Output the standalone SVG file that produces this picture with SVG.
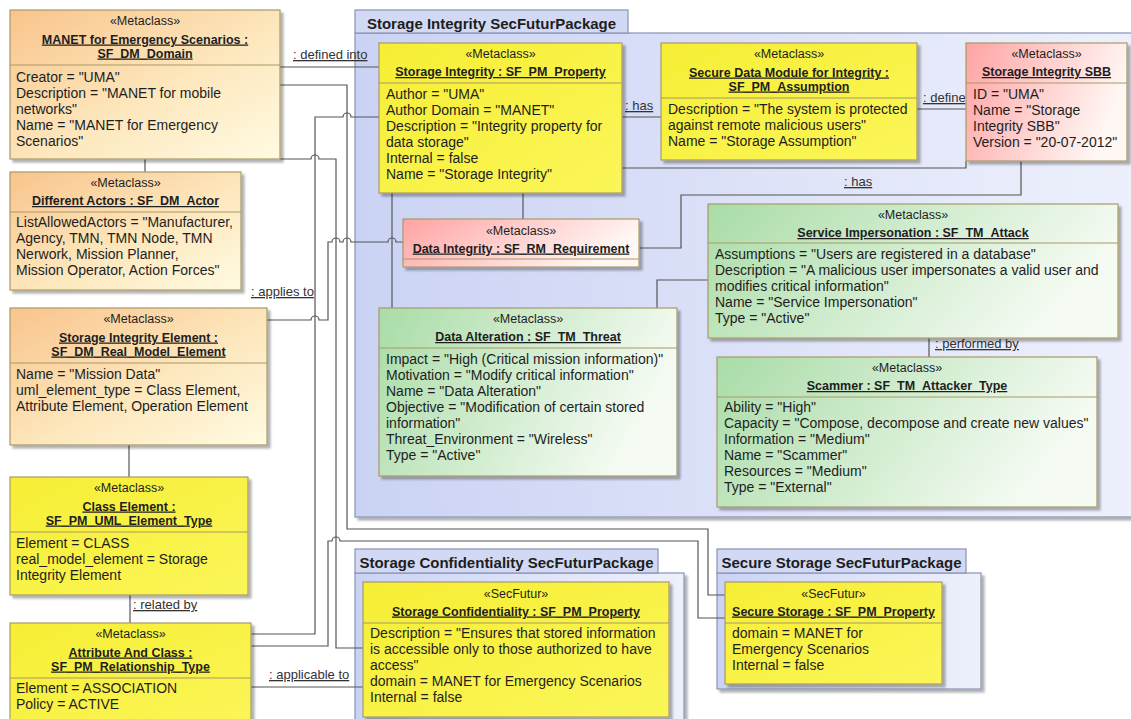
<svg xmlns="http://www.w3.org/2000/svg" width="1131" height="719" viewBox="0 0 1131 719">
<defs>
<linearGradient id="gO" x1="0" y1="0" x2="1" y2="1"><stop offset="0" stop-color="#f9c48c"/><stop offset="0.55" stop-color="#fde7bd"/><stop offset="1" stop-color="#fffbe2"/></linearGradient>
<linearGradient id="gP" x1="0" y1="0" x2="1" y2="0.3"><stop offset="0" stop-color="#ffa3a3"/><stop offset="1" stop-color="#fff7f4"/></linearGradient>
<linearGradient id="gG" x1="0" y1="0" x2="1" y2="0.3"><stop offset="0" stop-color="#a9dca7"/><stop offset="1" stop-color="#f5fbf3"/></linearGradient>
<linearGradient id="gY" x1="0" y1="0" x2="1" y2="1"><stop offset="0" stop-color="#f6ee34"/><stop offset="1" stop-color="#fbf65a"/></linearGradient>
<linearGradient id="gK" x1="0" y1="0" x2="1" y2="0"><stop offset="0" stop-color="#cbd3f4"/><stop offset="1" stop-color="#eef1fc"/></linearGradient>
<filter id="sh" x="-5%" y="-5%" width="115%" height="120%"><feDropShadow dx="3" dy="3" stdDeviation="1.2" flood-color="#000" flood-opacity="0.3"/></filter>
<style>
text{font-family:"Liberation Sans",Arial,sans-serif;fill:#1e1e1e}
.st{font-size:12.5px;text-anchor:middle}
.tt{font-size:12.5px;font-weight:bold;text-anchor:middle;text-decoration:underline}
.at{font-size:14px}
.lb{font-size:13px;fill:#333;text-decoration:underline}
.pk{font-size:15px;font-weight:bold;text-anchor:middle}
.nb{stroke:#a89a66;stroke-width:1.2;filter:url(#sh)}
.sp{stroke:#a89a66;stroke-width:1.2}
.o{fill:url(#gO)}
.y{fill:url(#gY)}
.p{fill:url(#gP)}
.g{fill:url(#gG)}
.pkb{fill:url(#gK);stroke:#8a93b5;stroke-width:1.2;filter:url(#sh)}
.pkt{fill:#d2d9f4;stroke:#8a93b5;stroke-width:1.2}
.cn path{fill:none;stroke:#555;stroke-width:1.2}
</style>
</defs>
<rect width="1131" height="719" fill="#fff"/>

<g id="pkg-storage-integrity">
<rect class="pkb" x="355" y="33" width="790" height="484"/>
<rect class="pkt" x="355" y="10" width="273" height="23"/>
<text class="pk" x="491.5" y="28.5">Storage Integrity SecFuturPackage</text>
</g>
<g id="pkg-storage-confidentiality">
<rect class="pkb" x="355" y="573" width="329" height="160"/>
<rect class="pkt" x="355" y="549" width="303" height="24"/>
<text class="pk" x="506.5" y="568">Storage Confidentiality SecFuturPackage</text>
</g>
<g id="pkg-secure-storage">
<rect class="pkb" x="717" y="573" width="264" height="116"/>
<rect class="pkt" x="717" y="549" width="249" height="24"/>
<text class="pk" x="841.5" y="568">Secure Storage SecFuturPackage</text>
</g>

<g id="connectors" class="cn">
<path d="M280 67H379"/>
<path d="M280 85H347V529H708V595H725"/>
<path d="M379 117H351A4 4 0 0 0 343 117H315V634H251"/>
<path d="M280 159H311A4 4 0 0 1 319 159H336V648H363"/>
<path d="M267 320H311A4 4 0 0 1 319 320H328V242H332A4 4 0 0 1 340 242H343A4 4 0 0 1 351 242H388A4 4 0 0 1 396 242H403"/>
<path d="M251 646H328V541H332A4 4 0 0 1 340 541H698V618H725"/>
<path d="M251 687H363"/>
<path d="M130 595V623"/>
<path d="M145 159V172"/>
<path d="M129 445V477"/>
<path d="M622 117H661"/>
<path d="M917 109H966"/>
<path d="M622 168H966V161"/>
<path d="M1021 161V195H681V248H639"/>
<path d="M657 308V280H708"/>
<path d="M392 193V308"/>
<path d="M523 193V219"/>
<path d="M929 338V357"/>
</g>
<g id="connector-labels">
<text class="lb" x="293" y="59">: defined into</text>
<text class="lb" x="625" y="110">: has</text>
<text class="lb" x="923" y="102">: define</text>
<text class="lb" x="844" y="186">: has</text>
<text class="lb" x="251" y="296">: applies to</text>
<text class="lb" x="935" y="348">: performed by</text>
<text class="lb" x="133" y="609">: related by</text>
<text class="lb" x="269" y="679">: applicable to</text>
</g>

<g id="n-manet">
<rect class="nb o" x="10" y="10" width="270" height="149"/>
<line class="sp" x1="10" y1="65" x2="280" y2="65"/>
<text class="st" x="145" y="25">«Metaclass»</text>
<text class="tt" x="145" y="43.5">MANET for Emergency Scenarios :</text>
<text class="tt" x="145" y="57.5">SF_DM_Domain</text>
<text class="at" x="16" y="82">Creator = "UMA"</text>
<text class="at" x="16" y="98">Description = "MANET for mobile</text>
<text class="at" x="16" y="114">networks"</text>
<text class="at" x="16" y="130">Name = "MANET for Emergency</text>
<text class="at" x="16" y="146">Scenarios"</text>
</g>

<g id="n-actors">
<rect class="nb o" x="10" y="172" width="231" height="118"/>
<line class="sp" x1="10" y1="212" x2="241" y2="212"/>
<text class="st" x="125.5" y="187">«Metaclass»</text>
<text class="tt" x="125.5" y="205">Different Actors : SF_DM_Actor</text>
<text class="at" x="16" y="227">ListAllowedActors = "Manufacturer,</text>
<text class="at" x="16" y="243">Agency, TMN, TMN Node, TMN</text>
<text class="at" x="16" y="259">Nerwork, Mission Planner,</text>
<text class="at" x="16" y="275">Mission Operator, Action Forces"</text>
</g>

<g id="n-si-element">
<rect class="nb o" x="10" y="308" width="257" height="137"/>
<line class="sp" x1="10" y1="363" x2="267" y2="363"/>
<text class="st" x="138.5" y="323">«Metaclass»</text>
<text class="tt" x="138.5" y="341.5">Storage Integrity Element :</text>
<text class="tt" x="138.5" y="355.5">SF_DM_Real_Model_Element</text>
<text class="at" x="16" y="379">Name = "Mission Data"</text>
<text class="at" x="16" y="395">uml_element_type = Class Element,</text>
<text class="at" x="16" y="411">Attribute Element, Operation Element</text>
</g>

<g id="n-class-element">
<rect class="nb y" x="10" y="477" width="238" height="118"/>
<line class="sp" x1="10" y1="532" x2="248" y2="532"/>
<text class="st" x="129" y="492">«Metaclass»</text>
<text class="tt" x="129" y="510.5">Class Element :</text>
<text class="tt" x="129" y="524.5">SF_PM_UML_Element_Type</text>
<text class="at" x="16" y="548">Element = CLASS</text>
<text class="at" x="16" y="564">real_model_element = Storage</text>
<text class="at" x="16" y="580">Integrity Element</text>
</g>

<g id="n-attr-class">
<rect class="nb y" x="10" y="623" width="241" height="110"/>
<line class="sp" x1="10" y1="678" x2="251" y2="678"/>
<text class="st" x="130.5" y="638">«Metaclass»</text>
<text class="tt" x="130.5" y="656.5">Attribute And Class :</text>
<text class="tt" x="130.5" y="670.5">SF_PM_Relationship_Type</text>
<text class="at" x="16" y="693">Element = ASSOCIATION</text>
<text class="at" x="16" y="709">Policy = ACTIVE</text>
</g>

<g id="n-si-property">
<rect class="nb y" x="379" y="43" width="243" height="150"/>
<line class="sp" x1="379" y1="83" x2="622" y2="83"/>
<text class="st" x="500.5" y="58">«Metaclass»</text>
<text class="tt" x="500.5" y="76">Storage Integrity : SF_PM_Property</text>
<text class="at" x="386" y="99">Author = "UMA"</text>
<text class="at" x="386" y="115">Author Domain = "MANET"</text>
<text class="at" x="386" y="131">Description = "Integrity property for</text>
<text class="at" x="386" y="147">data storage"</text>
<text class="at" x="386" y="163">Internal = false</text>
<text class="at" x="386" y="179">Name = "Storage Integrity"</text>
</g>

<g id="n-secure-data">
<rect class="nb y" x="661" y="43" width="256" height="117"/>
<line class="sp" x1="661" y1="98" x2="917" y2="98"/>
<text class="st" x="789" y="58">«Metaclass»</text>
<text class="tt" x="789" y="76.5">Secure Data Module for Integrity :</text>
<text class="tt" x="789" y="90.5">SF_PM_Assumption</text>
<text class="at" x="668" y="114">Description = "The system is protected</text>
<text class="at" x="668" y="130">against remote malicious users"</text>
<text class="at" x="668" y="146">Name = "Storage Assumption"</text>
</g>

<g id="n-sbb">
<rect class="nb p" x="966" y="43" width="161" height="118"/>
<line class="sp" x1="966" y1="83" x2="1127" y2="83"/>
<text class="st" x="1046.5" y="58">«Metaclass»</text>
<text class="tt" x="1046.5" y="76">Storage Integrity SBB</text>
<text class="at" x="973" y="99">ID = "UMA"</text>
<text class="at" x="973" y="115">Name = "Storage</text>
<text class="at" x="973" y="131">Integrity SBB"</text>
<text class="at" x="973" y="147">Version = "20-07-2012"</text>
</g>

<g id="n-data-integrity">
<rect class="nb p" x="403" y="219" width="236" height="48"/>
<line class="sp" x1="403" y1="259" x2="639" y2="259"/>
<text class="st" x="521" y="234.5">«Metaclass»</text>
<text class="tt" x="521" y="252.5">Data Integrity : SF_RM_Requirement</text>
</g>

<g id="n-data-alteration">
<rect class="nb g" x="379" y="308" width="298" height="168"/>
<line class="sp" x1="379" y1="348" x2="677" y2="348"/>
<text class="st" x="528" y="323">«Metaclass»</text>
<text class="tt" x="528" y="341">Data Alteration : SF_TM_Threat</text>
<text class="at" x="386" y="364">Impact = "High (Critical mission information)"</text>
<text class="at" x="386" y="380">Motivation = "Modify critical information"</text>
<text class="at" x="386" y="396">Name = "Data Alteration"</text>
<text class="at" x="386" y="412">Objective = "Modification of certain stored</text>
<text class="at" x="386" y="428">information"</text>
<text class="at" x="386" y="444">Threat_Environment = "Wireless"</text>
<text class="at" x="386" y="460">Type = "Active"</text>
</g>

<g id="n-service-impersonation">
<rect class="nb g" x="708" y="204" width="410" height="134"/>
<line class="sp" x1="708" y1="243" x2="1118" y2="243"/>
<text class="st" x="913" y="219">«Metaclass»</text>
<text class="tt" x="913" y="237">Service Impersonation : SF_TM_Attack</text>
<text class="at" x="715" y="259">Assumptions = "Users are registered in a database"</text>
<text class="at" x="715" y="275">Description = "A malicious user impersonates a valid user and</text>
<text class="at" x="715" y="291">modifies critical information"</text>
<text class="at" x="715" y="307">Name = "Service Impersonation"</text>
<text class="at" x="715" y="323">Type = "Active"</text>
</g>

<g id="n-scammer">
<rect class="nb g" x="717" y="357" width="380" height="150"/>
<line class="sp" x1="717" y1="397" x2="1097" y2="397"/>
<text class="st" x="907" y="372">«Metaclass»</text>
<text class="tt" x="907" y="390">Scammer : SF_TM_Attacker_Type</text>
<text class="at" x="724" y="412">Ability = "High"</text>
<text class="at" x="724" y="428">Capacity = "Compose, decompose and create new values"</text>
<text class="at" x="724" y="444">Information = "Medium"</text>
<text class="at" x="724" y="460">Name = "Scammer"</text>
<text class="at" x="724" y="476">Resources = "Medium"</text>
<text class="at" x="724" y="492">Type = "External"</text>
</g>

<g id="n-storage-confidentiality">
<rect class="nb y" x="363" y="582" width="306" height="135"/>
<line class="sp" x1="363" y1="623" x2="669" y2="623"/>
<text class="st" x="516" y="597.5">«SecFutur»</text>
<text class="tt" x="516" y="615.5">Storage Confidentiality : SF_PM_Property</text>
<text class="at" x="370" y="638">Description = "Ensures that stored information</text>
<text class="at" x="370" y="654">is accessible only to those authorized to have</text>
<text class="at" x="370" y="670">access"</text>
<text class="at" x="370" y="686">domain = MANET for Emergency Scenarios</text>
<text class="at" x="370" y="702">Internal = false</text>
</g>

<g id="n-secure-storage">
<rect class="nb y" x="725" y="582" width="217" height="102"/>
<line class="sp" x1="725" y1="623" x2="942" y2="623"/>
<text class="st" x="833.5" y="597.5">«SecFutur»</text>
<text class="tt" x="833.5" y="615.5">Secure Storage : SF_PM_Property</text>
<text class="at" x="732" y="638">domain = MANET for</text>
<text class="at" x="732" y="654">Emergency Scenarios</text>
<text class="at" x="732" y="670">Internal = false</text>
</g>
</svg>
